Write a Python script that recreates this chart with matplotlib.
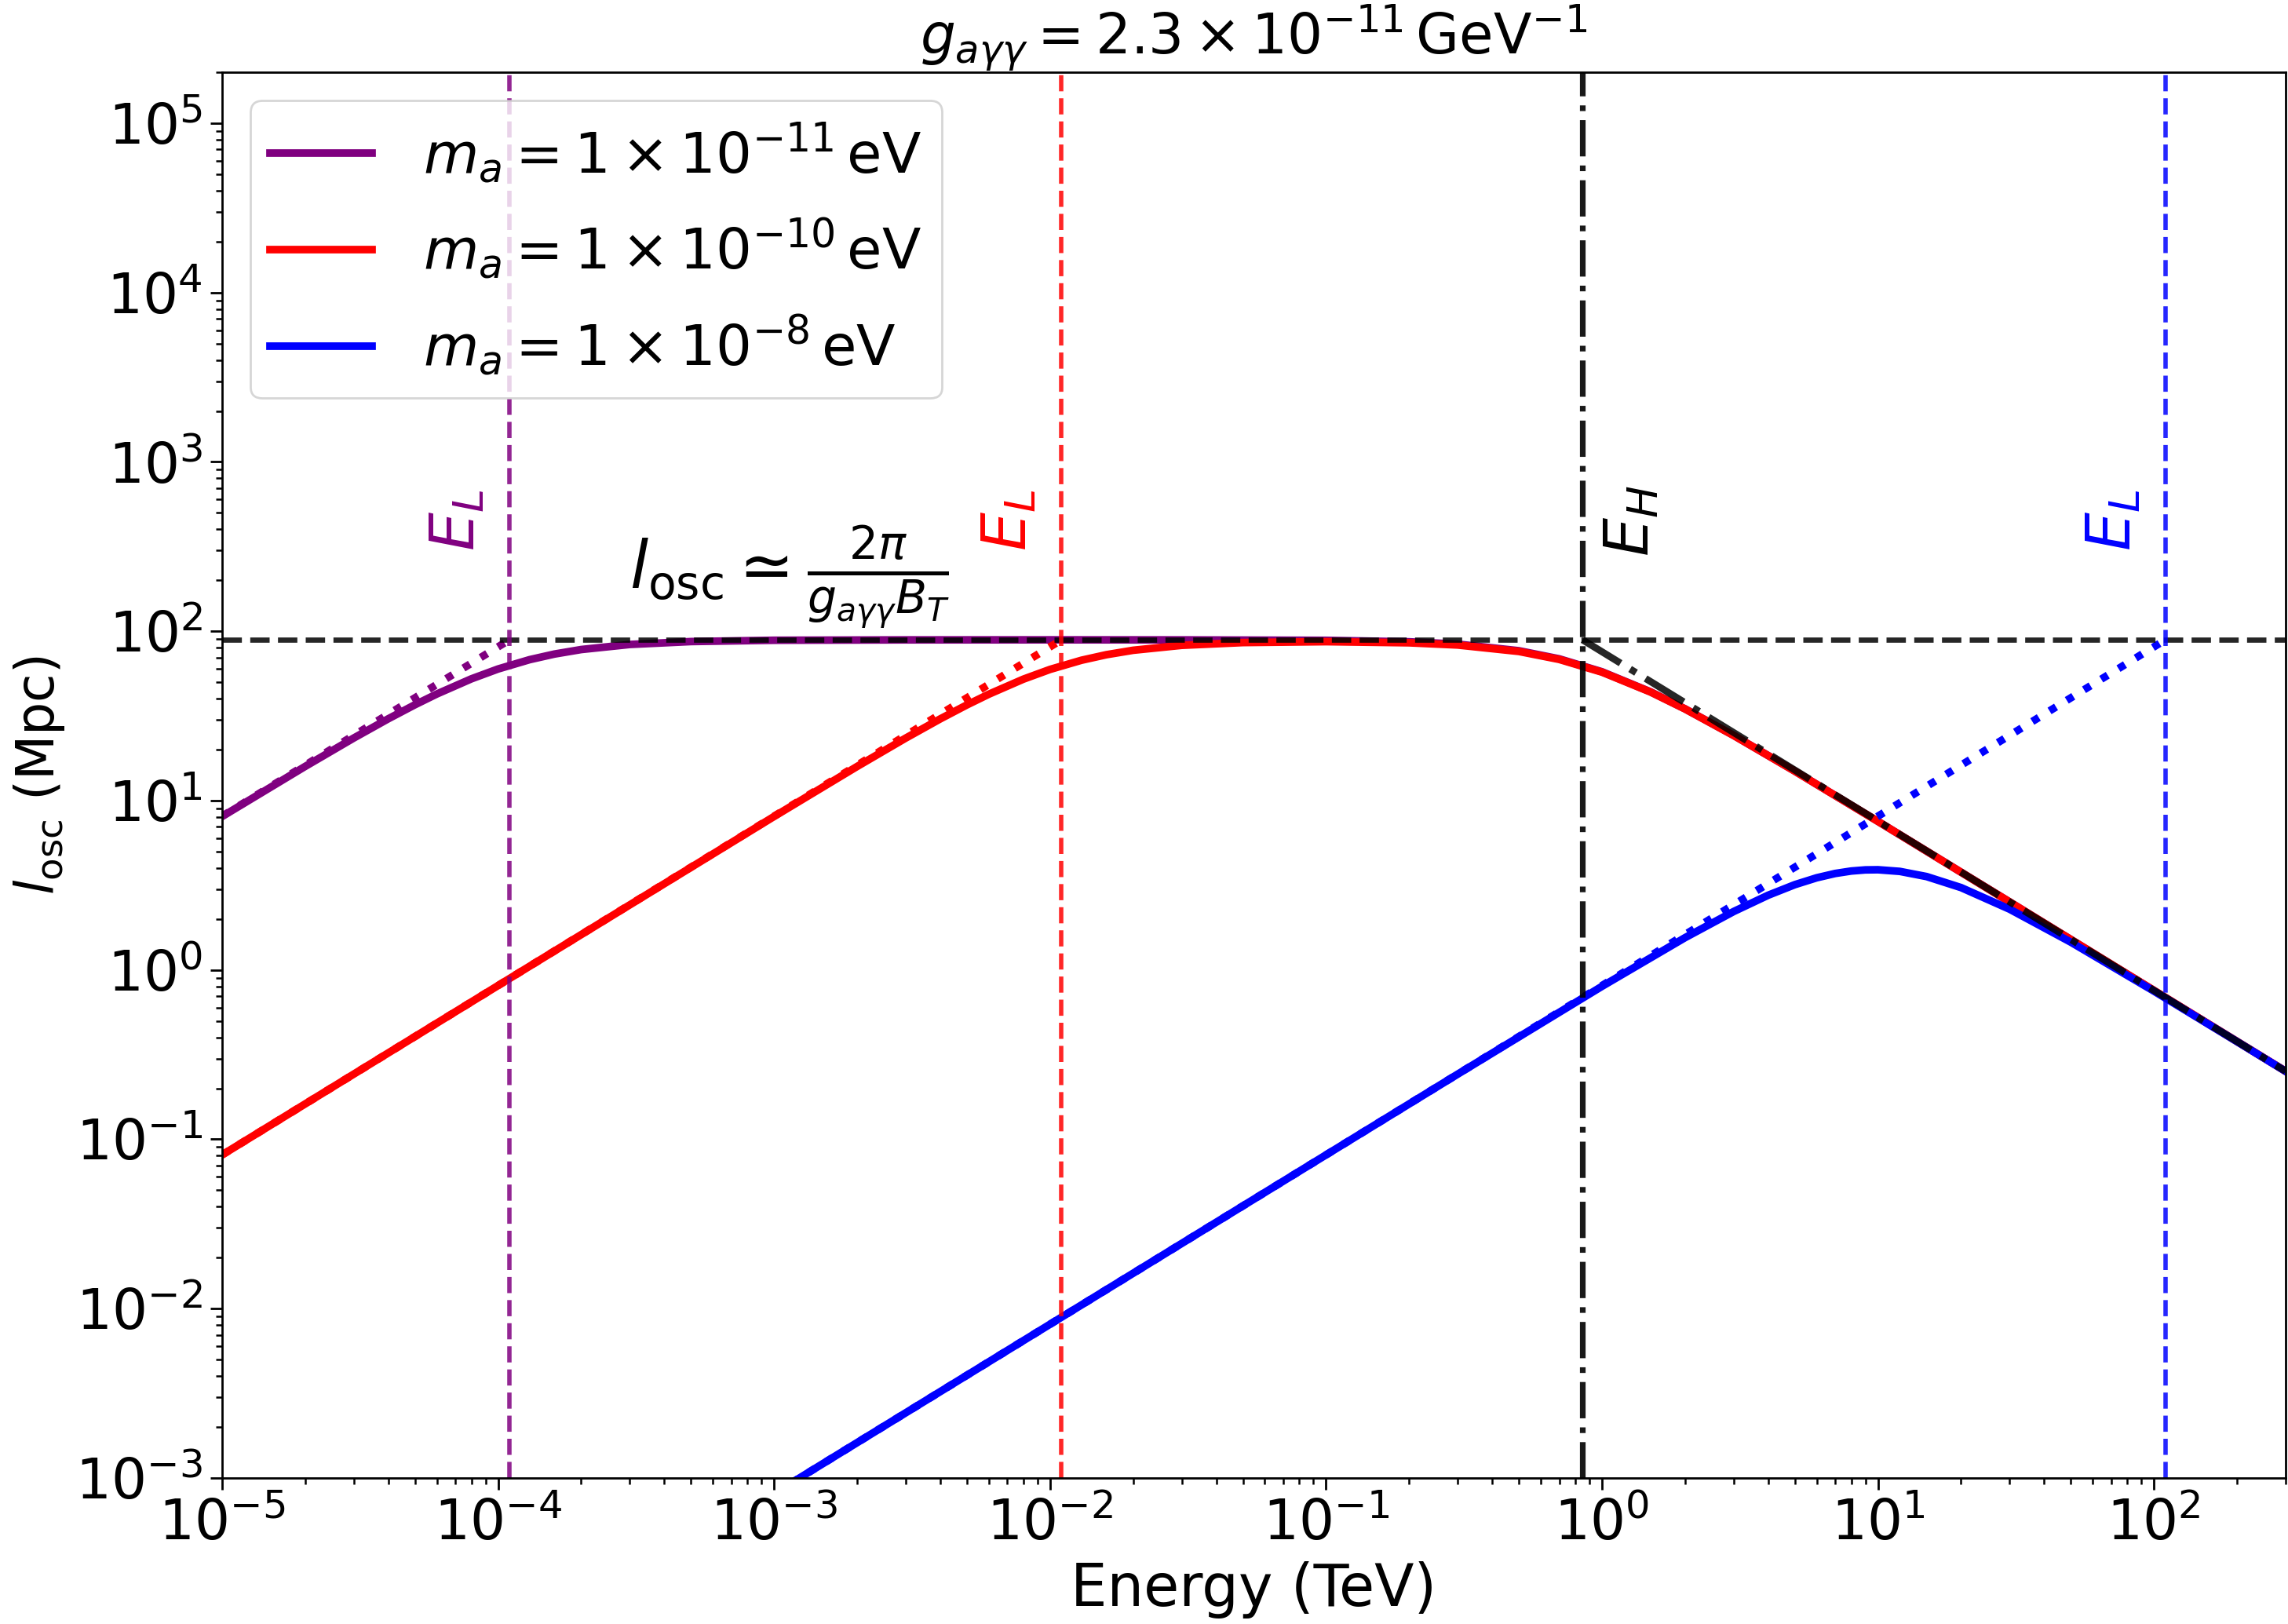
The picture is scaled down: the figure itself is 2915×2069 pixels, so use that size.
import numpy as np
import matplotlib
matplotlib.use('Agg')
import matplotlib.pyplot as plt
from matplotlib.ticker import LogLocator, NullFormatter

plt.rc('xtick', labelsize=25.5)
plt.rc('ytick', labelsize=25.5)
plt.rc('axes', linewidth=1.0)

# energies (TeV) and oscillation lengths (Mpc)
E_purple = [1e-5, 2e-5, 3e-5, 4e-5, 5e-5, 6e-5, 8e-5, 1e-4, 1.3e-4, 1.6e-4, 2e-4, 3e-4, 5e-4,
            1e-3, 3e-3, 1e-2, 3e-2, 0.1, 0.2, 0.3, 0.5, 0.7, 1, 1.5, 2, 3, 5, 10, 30, 100, 300]
l_purple = [8.06, 15.92, 23.42, 30.42, 36.83, 42.62, 52.35, 59.87, 67.94, 73.34, 77.98, 83.56, 86.92,
            88.47, 88.93, 88.98, 88.93, 88.38, 86.63, 83.93, 76.71, 68.70, 57.64, 43.88, 34.81, 24.26,
            14.92, 7.538, 2.521, 0.7565, 0.2522]

E_red = [1e-5, 1e-4, 1e-3, 2e-3, 3e-3, 4e-3, 5e-3, 6e-3, 8e-3, 1e-2, 1.3e-2, 1.6e-2, 2e-2, 3e-2,
         5e-2, 0.1, 0.2, 0.3, 0.5, 0.7, 1, 1.5, 2, 3, 5, 10, 30, 100, 300]
l_red = [0.0809, 0.809, 8.057, 15.91, 23.40, 30.37, 36.75, 42.49, 52.11, 59.52, 67.43, 72.70, 77.21,
         82.58, 85.73, 86.78, 85.47, 82.93, 75.97, 68.17, 57.33, 43.74, 34.74, 24.24, 14.91, 7.537,
         2.521, 0.7565, 0.2522]

E_blue = [1e-3, 1e-2, 0.1, 0.3, 1, 2, 3, 4, 5, 6, 7, 8, 9, 10, 12, 15, 20, 30, 50, 100, 200, 300]
l_blue = [8.09e-4, 8.09e-3, 0.0809, 0.2425, 0.8005, 1.5516, 2.2135, 2.7622, 3.190, 3.502, 3.713,
          3.839, 3.898, 3.906, 3.819, 3.560, 3.064, 2.2836, 1.4583, 0.7495, 0.3774, 0.2519]

# low-energy asymptotes (dotted) and high-energy asymptote (dash-dot)
E_purple_low = [1e-5, 1.1e-4]
l_purple_low = [8.09, 89]
E_red_low = [1e-5, 1.1e-2]
l_red_low = [0.0809, 89]
E_blue_low = [1e-3, 1.1e2]
l_blue_low = [8.09e-4, 89]
E_high = [0.85, 300]
l_high = [89, 0.2522]

l_plateau = 89
E_L = [1.1e-4, 1.1e-2, 1.1e2]
E_H = 0.85

labels = [r'$m_a = 1\times10^{-11}\,$eV', r'$m_a = 1\times10^{-10}\,$eV', r'$m_a = 1\times10^{-8}\,$eV']
colors = ['purple', 'red', 'blue']

fig = plt.figure(figsize=(14.575, 10.345), dpi=200)
ax = fig.add_axes([283/2915, 1-1883/2069, (2912-283)/2915, (1883-92)/2069])

ax.plot(E_purple, l_purple, color=colors[0], lw=3.5, label=labels[0])
ax.plot(E_red, l_red, color=colors[1], lw=3.5, label=labels[1])
ax.plot(E_blue, l_blue, color=colors[2], lw=3.5, label=labels[2])

ax.plot(E_purple_low, l_purple_low, ':', color=colors[0], lw=3.5)
ax.plot(E_red_low, l_red_low, ':', color=colors[1], lw=3.5)
ax.plot(E_blue_low, l_blue_low, ':', color=colors[2], lw=3.5)
ax.plot(E_high, l_high, '-.', color='k', lw=3.2, alpha=0.85)

ax.axhline(l_plateau, color='k', ls='--', lw=2.4, alpha=0.85)
for e, c in zip(E_L, colors):
    ax.axvline(e, color=c, ls='--', lw=2.0, alpha=0.85)
    ax.text(e/1.55, 450, r'$E_L$', color=c, rotation=90, fontsize=28, ha='center', va='center')
ax.axvline(E_H, color='k', ls='-.', lw=2.6, alpha=0.9)
ax.text(E_H*1.5, 450, r'$E_H$', color='k', rotation=90, fontsize=28, ha='center', va='center')

ax.text(3e-4, 100, r'$l_{\rm osc} \simeq \frac{2\pi}{g_{a\gamma\gamma}B_T}$', fontsize=30,
        ha='left', va='bottom')

ax.set_xscale('log')
ax.set_yscale('log')
ax.set_xlim(1e-5, 3e2)
ax.set_ylim(1e-3, 2e5)
ax.xaxis.set_major_locator(LogLocator(base=10, numticks=20))
ax.xaxis.set_minor_locator(LogLocator(base=10, subs=np.arange(2, 10), numticks=50))
ax.xaxis.set_minor_formatter(NullFormatter())
ax.yaxis.set_major_locator(LogLocator(base=10, numticks=20))
ax.yaxis.set_minor_locator(LogLocator(base=10, subs=np.arange(2, 10), numticks=50))
ax.yaxis.set_minor_formatter(NullFormatter())
ax.tick_params(which='major', length=5.5, width=1.0)
ax.tick_params(which='minor', length=3, width=0.9)

ax.set_xlabel('Energy (TeV)', fontsize=26.5, labelpad=4)
ax.set_ylabel(r'$l_{\rm osc}$ (Mpc)', fontsize=24, labelpad=4)
ax.set_title(r'$g_{a\gamma\gamma} = 2.3\times10^{-11}\,$GeV$^{-1}$', fontsize=25.5, pad=6)

leg = ax.legend(loc='upper left', fontsize=26, handlelength=1.8, borderpad=0.35,
                labelspacing=0.55, handletextpad=0.9)
for h in leg.get_lines():
    h.set_linewidth(3.5)

fig.savefig('out.png', dpi=200)
